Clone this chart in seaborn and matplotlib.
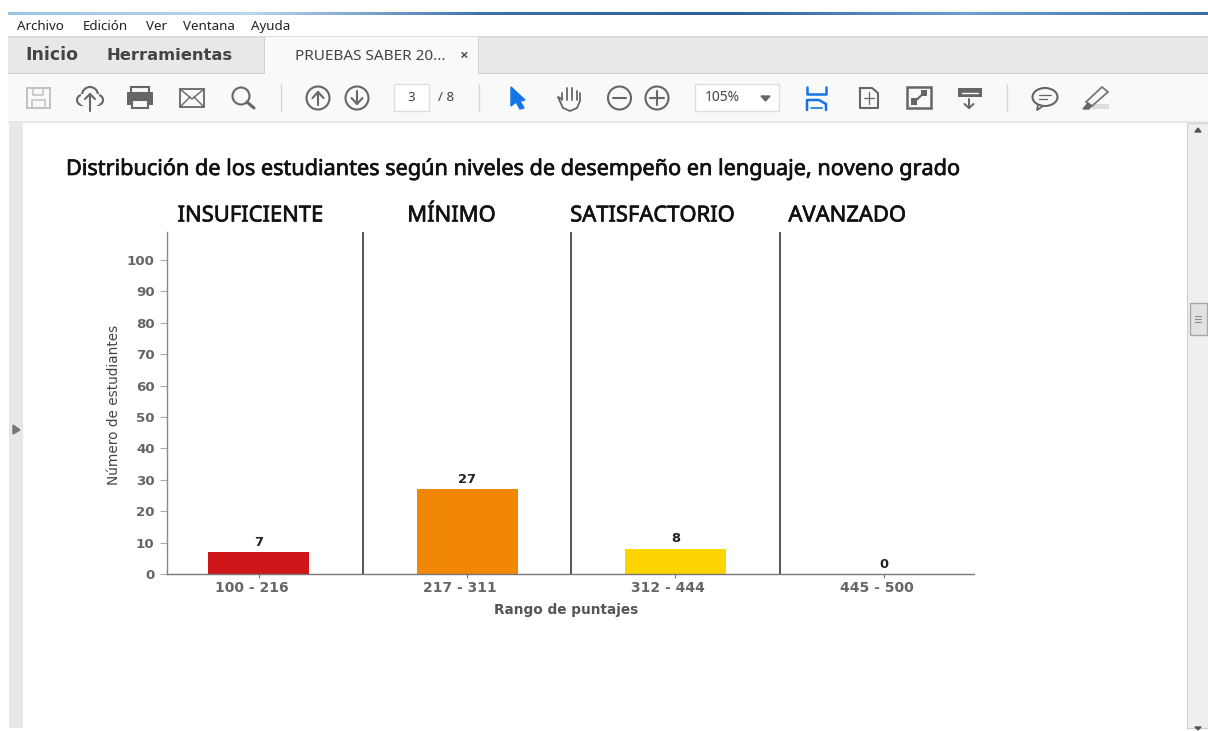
import matplotlib
matplotlib.use("Agg")
import matplotlib.pyplot as plt
import matplotlib.patheffects as pe
from matplotlib.colors import LinearSegmentedColormap
from matplotlib.patches import Circle, Ellipse, Polygon, Rectangle
from matplotlib.transforms import ScaledTranslation
import numpy as np
import pandas as pd
import seaborn as sns

# Chart data
niveles = ["INSUFICIENTE", "MÍNIMO", "SATISFACTORIO", "AVANZADO"]
rangos = ["100 - 216", "217 - 311", "312 - 444", "445 - 500"]
estudiantes = [7, 27, 8, 0]
colores = ["#cf1618", "#f28705", "#ffd500", "#8c8c8c"]
y_ticks = [0, 10, 20, 30, 40, 50, 60, 70, 80, 90, 100]

titulo = "Distribución de los estudiantes según niveles de desempeño en lenguaje, noveno grado"
menu = ["Archivo", "Edición", "Ver", "Ventana", "Ayuda"]

sns.set_theme(style="white")
plt.rcParams["font.family"] = ["Open Sans", "DejaVu Sans"]

fig = plt.figure(figsize=(12.08, 7.31), dpi=100, facecolor="white")

# Noto Sans has no bold face here, so thicken it with a thin outline
grueso = [pe.withStroke(linewidth=0.5, foreground="#111111")]

# Reader window behind the chart, in pixel coordinates
ui = fig.add_axes([0, 0, 1, 1], zorder=0)
ui.axis("off")


def box(x, y, w, h, fc, ec="none", lw=0.0, z=1):
    ui.add_patch(Rectangle((x, y), w, h, facecolor=fc, edgecolor=ec, linewidth=lw, zorder=z))


def ring(x, y, r=11.5, ec="#666666", lw=1.5):
    ui.add_patch(Circle((x, y), r, facecolor="none", edgecolor=ec, linewidth=lw, zorder=3))


def stroke(xs, ys, color="#666666", lw=1.5):
    ui.plot(xs, ys, color=color, lw=lw, zorder=4, solid_capstyle="round", solid_joinstyle="round")


band = LinearSegmentedColormap.from_list("band", ["#9cc4e4", "#b9d6ee", "#3d6fa8", "#2f5f9a", "#6f9fcf", "#3a6ca6"])
ui.imshow(np.linspace(0, 1, 400)[None, :], cmap=band, aspect="auto", extent=(8, 1208, 15, 12), zorder=2)
ui.set_xlim(0, 1208)
ui.set_ylim(731, 0)

box(8, 37, 1200, 37, "#e8e8e8")
box(8, 36, 1200, 1.5, "#dcdcdc", z=2)
box(264, 37, 214, 38, "#f9f9f9", z=2)
box(264, 37, 1, 37, "#d2d2d2", z=2)
box(478, 37, 1, 37, "#d2d2d2", z=2)
box(8, 74, 1200, 48, "#f9f9f9")
box(8, 73, 256, 1, "#d2d2d2", z=2)
box(478, 73, 730, 1, "#d2d2d2", z=2)
box(8, 121, 1200, 2, "#e6e6e6", z=2)
box(9, 123, 14, 605, "#e8e8e8")
box(1187, 123, 21, 605, "#efefef", ec="#d0d0d0", lw=0.8)
box(1190, 303, 17, 32, "#e2e2e2", ec="#a8a8a8", lw=1.0, z=2)
for yy in (316, 319, 322):
    stroke([1195, 1201], [yy, yy], "#888888", 0.8)
ui.add_patch(Polygon([[13, 425], [13, 434], [20, 430]], color="#777777", zorder=3))
ui.add_patch(Polygon([[1195, 132], [1201, 132], [1198, 128]], color="#555555", zorder=3))
ui.add_patch(Polygon([[1195, 727], [1201, 727], [1198, 730]], color="#555555", zorder=3))

# Menu and tabs
for etiqueta, x in zip(menu, [17, 83, 146, 183, 251]):
    ui.text(x, 26.5, etiqueta, fontsize=9.6, color="#222222", va="center", family="Noto Sans", zorder=5)
ui.text(25, 55.5, "Inicio", fontsize=12.4, color="#444444", va="center", family="DejaVu Sans", fontweight="bold", zorder=5)
ui.text(107, 55.5, "Herramientas", fontsize=11.8, color="#444444", va="center", family="DejaVu Sans", fontweight="bold", zorder=5)
ui.text(295, 56, "PRUEBAS SABER 20...", fontsize=11, color="#444444", va="center", family="Noto Sans", zorder=5)
ui.text(463, 55.5, "×", fontsize=11, color="#555555", va="center", ha="center", fontweight="bold", zorder=5)

# Toolbar separators and boxes
for x in (281, 479, 1007):
    stroke([x, x], [84, 111], "#d6d6d6", 1.0)
box(394, 84, 35, 27, "white", ec="#dddddd", lw=1.0, z=2)
ui.text(411, 97.5, "3", fontsize=9.6, color="#444444", ha="center", va="center", family="Noto Sans", zorder=5)
ui.text(446, 97.5, "/ 8", fontsize=9.6, color="#444444", ha="center", va="center", family="Noto Sans", zorder=5)
box(695, 84, 84, 27, "white", ec="#dddddd", lw=1.0, z=2)
ui.text(705, 97.5, "105%", fontsize=10, color="#444444", va="center", family="Noto Sans", zorder=5)
ui.add_patch(Polygon([[761, 96], [770, 96], [765.5, 101]], color="#666666", zorder=4))

# Save
box(27, 88, 23, 20, "none", ec="#c2c2c2", lw=1.4, z=3)
box(33, 88, 10, 7, "none", ec="#c2c2c2", lw=1.1, z=3)
box(32, 100, 13, 8, "none", ec="#c2c2c2", lw=1.1, z=3)
# Cloud upload
ui.add_patch(Circle((90, 95), 8, facecolor="none", edgecolor="#666666", linewidth=1.5, zorder=3))
ui.add_patch(Circle((82, 100), 5, facecolor="none", edgecolor="#666666", linewidth=1.5, zorder=3))
ui.add_patch(Circle((98, 100), 5, facecolor="none", edgecolor="#666666", linewidth=1.5, zorder=3))
box(81, 93.5, 18, 11, "#f9f9f9", z=3)
box(83, 102, 14, 5, "#f9f9f9", z=3)
stroke([90, 90], [94, 111])
stroke([85, 90, 95], [99, 94, 99])
# Printer
box(131, 87, 18, 6, "none", ec="#666666", lw=1.5, z=3)
box(127, 92, 26, 13, "#666666", z=3)
box(132, 100, 16, 8, "#f9f9f9", ec="#666666", lw=1.5, z=4)
# Mail
box(180, 89, 24, 18, "none", ec="#666666", lw=1.3, z=3)
stroke([180, 192, 204], [89, 99, 89], lw=1.0)
stroke([180, 190], [107, 97], lw=1.0)
stroke([204, 194], [107, 97], lw=1.0)
# Search
ring(241, 96, 8.5)
stroke([247, 254], [102, 108], lw=2.2)
# Page up and down
ring(318, 98)
stroke([318, 318], [92, 105])
stroke([312.5, 318, 323.5], [98, 92, 98])
ring(357, 98)
stroke([357, 357], [91, 104])
stroke([351.5, 357, 362.5], [98, 104, 98])
# Cursor
ui.add_patch(Polygon([[511, 87], [525, 100], [520, 101], [524, 108], [520, 109], [516, 102], [511, 106]],
                     color="#1473e6", zorder=4))
# Hand
for x, top in zip((562, 567, 572, 577), (93, 88, 88, 91)):
    stroke([x, x], [top, 100], lw=1.3)
stroke([562, 558, 563, 570, 577, 580, 580], [99, 97, 108, 111, 108, 101, 93], lw=1.3)
# Zoom
ring(619.5, 98)
stroke([613, 626], [98, 98])
ring(657, 98)
stroke([650, 664], [98, 98])
stroke([657, 657], [91, 105])
# Fit width
stroke([807, 807, 826, 826], [87, 94, 94, 87], "#1473e6", 1.8)
stroke([807, 807, 819, 826, 826], [110, 100, 100, 104, 110], "#1473e6", 1.8)
stroke([811, 822], [108, 108], "#1473e6", 1.2)
# Fit page
stroke([860, 860, 878, 878, 872, 860], [88, 108, 108, 93, 88, 88], lw=1.5)
stroke([864, 874], [98, 98], lw=0.9)
stroke([869, 869], [92, 104], lw=0.9)
# Full screen
box(907, 87, 24, 21, "none", ec="#666666", lw=1.8, z=3)
stroke([913, 925], [103, 92], lw=1.5)
box(911, 98, 6, 7, "#666666", z=3)
box(921, 90, 6, 6, "#666666", z=3)
# Read mode
box(958, 88, 24, 9, "#666666", z=3)
stroke([962, 978], [92.5, 92.5], "white", 1.0)
stroke([969, 969], [99, 108], lw=1.4)
stroke([964.5, 969, 973.5], [104, 108, 104], lw=1.4)
# Comment
ui.add_patch(Ellipse((1045, 97), 25, 18, facecolor="none", edgecolor="#666666", linewidth=1.5, zorder=3))
stroke([1038, 1037, 1043], [105, 110, 106], lw=1.3)
stroke([1039, 1051], [95, 95], lw=0.9)
stroke([1039, 1047], [99, 99], lw=0.9)
# Highlight
ui.add_patch(Polygon([[1086, 102], [1102, 87], [1108, 92], [1092, 106]], facecolor="none",
                     edgecolor="#777777", linewidth=1.3, zorder=3))
ui.add_patch(Polygon([[1083, 109], [1088, 103], [1091, 106], [1089, 109]], color="#666666", zorder=3))
box(1091, 104, 18, 5, "#dddddd", z=2)

# Chart title
ui.text(66, 169.5, titulo, fontsize=15.6, color="#111111", va="center", family="Noto Sans", zorder=5,
        path_effects=grueso)

# Chart
ax = fig.add_axes([167 / 1208, 1 - 574 / 731, (974 - 167) / 1208, (574 - 232) / 731], zorder=1)
ax.patch.set_alpha(0)

df = pd.DataFrame({"rango": rangos, "estudiantes": estudiantes})
sns.barplot(data=df, x="rango", y="estudiantes", hue="rango", palette=colores, legend=False,
            width=0.485, edgecolor="none", saturation=1, ax=ax)

for cont in ax.containers:
    for lab in ax.bar_label(cont, padding=2.5, fontsize=9.4, fontweight="bold", color="#222222", family="DejaVu Sans"):
        lab.set_transform(lab.get_transform() + ScaledTranslation(-1 / 100, 0, fig.dpi_scale_trans))

ax.set_xlim(-0.44, 3.433)
ax.set_ylim(0, 108.9)
ax.set_yticks(y_ticks)
ax.set_xlabel("Rango de puntajes", fontsize=9.8, fontweight="bold", color="#555555", family="DejaVu Sans")
ax.xaxis.set_label_coords((566 - 167) / 807, -29 / 342)
ax.set_ylabel("Número de estudiantes", fontsize=9.8, color="#444444", family="DejaVu Sans")
ax.yaxis.set_label_coords((121 - 167) / 807, (574 - 405) / 342)
ax.tick_params(axis="x", labelsize=10, labelcolor="#666666", length=3, width=0.8, color="#777777", pad=2, bottom=True)
ax.tick_params(axis="y", labelsize=9.6, labelcolor="#666666", length=5, width=0.8, color="#aaaaaa", pad=4, left=True)
for lab in ax.get_yticklabels():
    lab.set_family("DejaVu Sans")
    lab.set_fontweight("bold")
# Range labels sit a little left of their ticks in the reference
desplazar = ScaledTranslation(-7 / 100, 0, fig.dpi_scale_trans)
for lab in ax.get_xticklabels():
    lab.set_family("DejaVu Sans")
    lab.set_fontweight("bold")
    lab.set_transform(lab.get_transform() + desplazar)

for side in ("top", "right"):
    ax.spines[side].set_visible(False)
ax.spines["left"].set_color("#888888")
ax.spines["left"].set_linewidth(1.0)
ax.spines["bottom"].set_color("#777777")
ax.spines["bottom"].set_linewidth(1.0)

# Level separators and headers
for i in range(len(niveles) - 1):
    ax.axvline(i + 0.5, color="#555555", lw=1.4)
for nivel, x in zip(niveles, [-0.04, 0.925, 1.89, 2.825]):
    ax.text(x, 1.047, nivel, transform=ax.get_xaxis_transform(), fontsize=15.8, color="#111111",
            ha="center", va="center", family="Noto Sans", clip_on=False, path_effects=grueso)

fig.savefig("out.png", dpi=100)
